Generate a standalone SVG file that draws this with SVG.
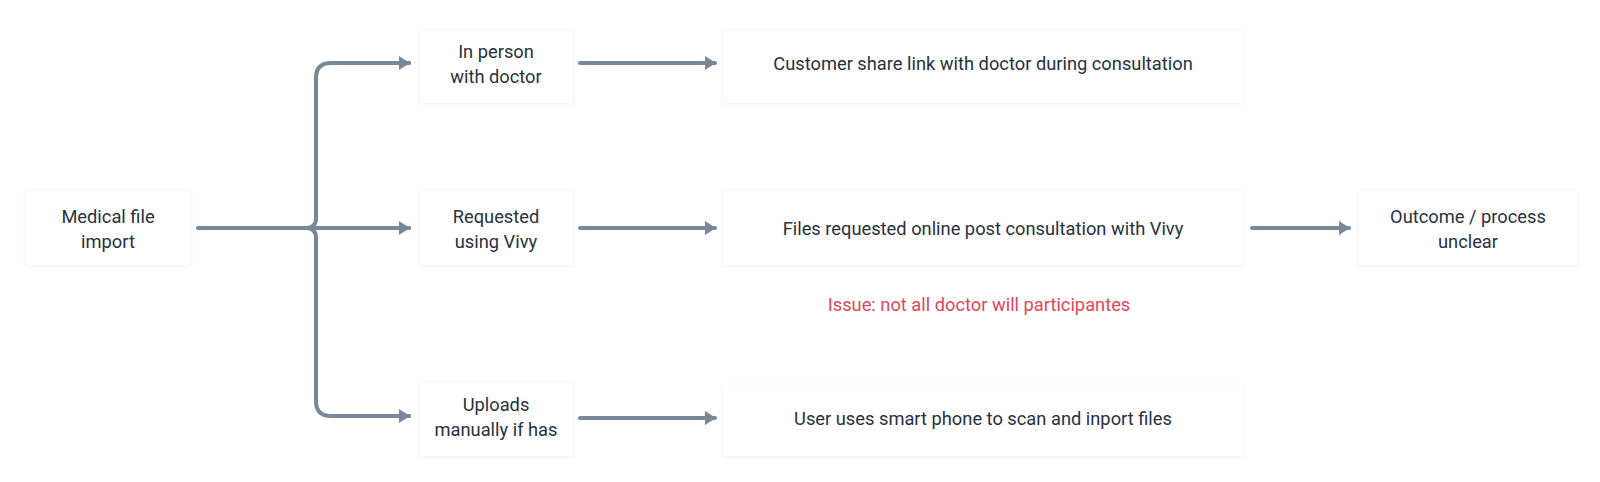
<svg xmlns="http://www.w3.org/2000/svg" width="1600" height="482" viewBox="0 0 1600 482">
<defs>
<filter id="sh" x="-10%" y="-20%" width="120%" height="140%">
<feDropShadow dx="0" dy="1" stdDeviation="2.5" flood-color="#000" flood-opacity="0.06"/>
</filter>
<marker id="arr" viewBox="0 0 11 14" refX="10" refY="7" markerWidth="11" markerHeight="14" markerUnits="userSpaceOnUse" orient="auto">
<path d="M0,0 L11,7 L0,14 Z" fill="#788898"/>
</marker>
<style>
.box{fill:#ffffff;filter:url(#sh);}
.t{font-family:Roboto,"Liberation Sans",sans-serif;font-size:18.3px;fill:#27313e;text-anchor:middle;}
.red{font-family:Roboto,"Liberation Sans",sans-serif;font-size:18.3px;fill:#e0475c;text-anchor:middle;}
.c{fill:none;stroke:#788898;stroke-width:4;stroke-linecap:round;stroke-linejoin:round;}
</style>
</defs>
<rect width="1600" height="482" fill="#ffffff"/>
<g id="connectors">
<path class="c" d="M198,228 H409"/>
<path class="c" d="M306,228 Q316,228 316,218 V78 Q316,63 331,63 H409"/>
<path class="c" d="M306,228 Q316,228 316,238 V401 Q316,416 331,416 H409"/>
<path class="c" d="M407,63 H409" marker-end="url(#arr)"/>
<path class="c" d="M407,228 H409" marker-end="url(#arr)"/>
<path class="c" d="M407,416 H409" marker-end="url(#arr)"/>
<path class="c" d="M580,63 H715" marker-end="url(#arr)"/>
<path class="c" d="M580,228 H715" marker-end="url(#arr)"/>
<path class="c" d="M580,418 H715" marker-end="url(#arr)"/>
<path class="c" d="M1252,228 H1349" marker-end="url(#arr)"/>
</g>
<g id="n-medical">
<rect class="box" x="26" y="191" width="164" height="74" rx="3"/>
<text class="t" x="108" y="223">Medical file</text>
<text class="t" x="108" y="248">import</text>
</g>
<g id="n-inperson">
<rect class="box" x="420" y="31" width="153" height="72" rx="3"/>
<text class="t" x="496" y="58">In person</text>
<text class="t" x="496" y="83">with doctor</text>
</g>
<g id="n-requested">
<rect class="box" x="420" y="191" width="153" height="74" rx="3"/>
<text class="t" x="496" y="223">Requested</text>
<text class="t" x="496" y="248">using Vivy</text>
</g>
<g id="n-uploads">
<rect class="box" x="420" y="383" width="153" height="73" rx="3"/>
<text class="t" x="496" y="411">Uploads</text>
<text class="t" x="496" y="436">manually if has</text>
</g>
<g id="n-customer">
<rect class="box" x="723" y="31" width="520" height="72" rx="3"/>
<text class="t" x="983" y="70">Customer share link with doctor during consultation</text>
</g>
<g id="n-files">
<rect class="box" x="723" y="191" width="520" height="74" rx="3"/>
<text class="t" x="983" y="235">Files requested online post consultation with Vivy</text>
</g>
<g id="n-user">
<rect class="box" x="723" y="385" width="520" height="71" rx="3"/>
<text class="t" x="983" y="425">User uses smart phone to scan and inport files</text>
</g>
<g id="n-issue">
<text class="red" x="979" y="311">Issue: not all doctor will participantes</text>
</g>
<g id="n-outcome">
<rect class="box" x="1359" y="191" width="218" height="74" rx="3"/>
<text class="t" x="1468" y="223">Outcome / process</text>
<text class="t" x="1468" y="248">unclear</text>
</g>
</svg>
